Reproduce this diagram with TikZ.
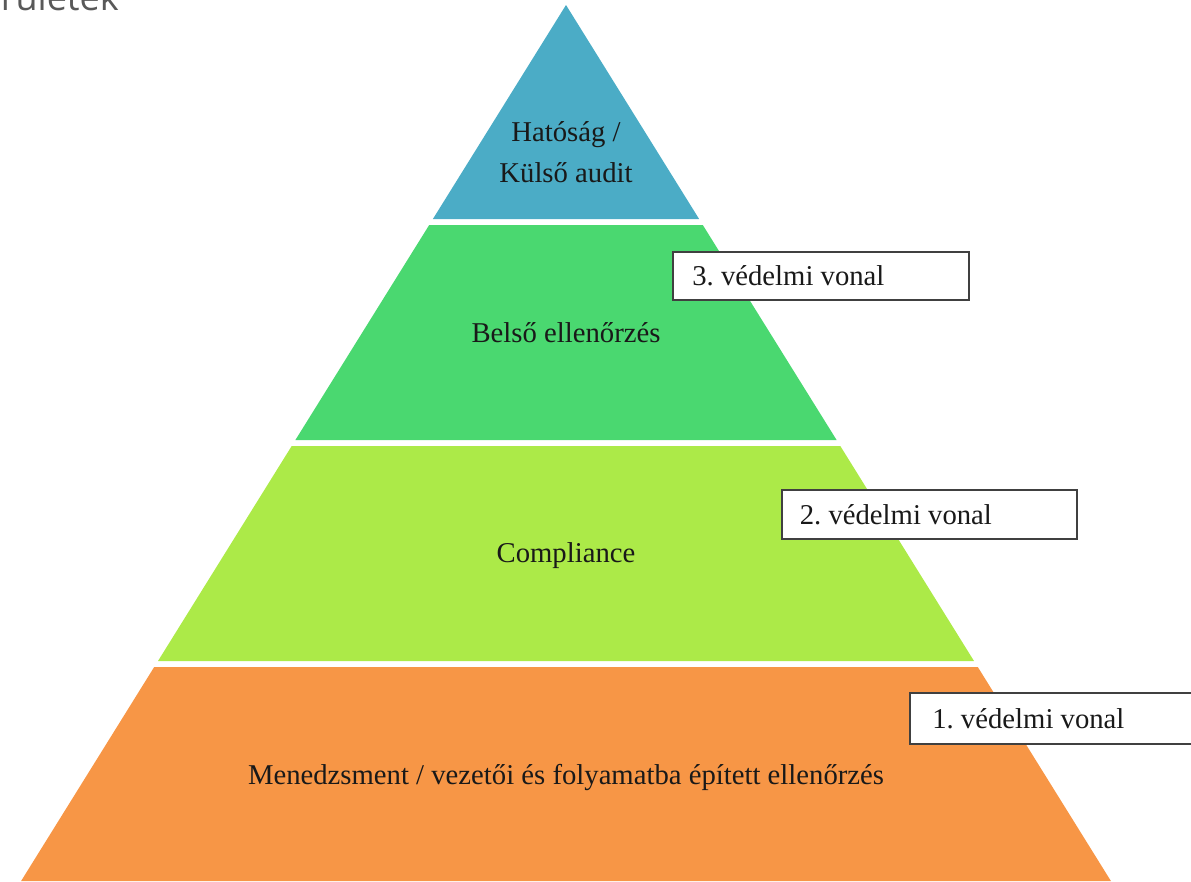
\documentclass[tikz,border=0pt]{standalone}
\usepackage{fontspec}
\setmainfont{Liberation Serif}
\newfontfamily\headfont{Open Sans}
\definecolor{cblue}{HTML}{4BACC6}
\definecolor{cgreen}{HTML}{4AD870}
\definecolor{clime}{HTML}{ACEA48}
\definecolor{corange}{HTML}{F79646}
\definecolor{cframe}{HTML}{404040}
\definecolor{chead}{HTML}{595959}
\frenchspacing
\begin{document}
\begin{tikzpicture}[x=1pt,y=-1pt,
  lbl/.style={font=\fontsize{28.7}{41}\selectfont, text=black!90, align=center, inner sep=0pt},
  linebox/.style={draw=cframe, line width=1.6pt, fill=white, anchor=north west, inner sep=0pt,
     font=\fontsize{28.7}{34}\selectfont, text=black!90}]
\useasboundingbox (0,0) rectangle (1191,881);
\clip (0,0) rectangle (1191,881);
% partial heading at the top-left edge
\node[anchor=base east, inner sep=0pt, font=\headfont\fontsize{36}{40}\selectfont, text=chead] (head) at (119,10) {területek};
% pyramid layers
\fill[cblue] (566,5) -- (699.1,219) -- (432.9,219) -- cycle;
\fill[cgreen] (429.2,225) -- (702.8,225) -- (836.6,440) -- (295.4,440) -- cycle;
\fill[clime] (291.7,446) -- (840.3,446) -- (974.0,661) -- (158.0,661) -- cycle;
\fill[corange] (154.2,667) -- (977.8,667) -- (1110.9,881) -- (21.1,881) -- cycle;
% layer labels
\node[lbl] (top) at (566,152) {Hatóság /\\Külső audit};
\node[lbl] (inner) at (566,333) {Belső ellenőrzés};
\node[lbl] (comp) at (566,556) {Compliance};
\node[lbl] (mgmt) at (566,777) {Menedzsment / vezetői és folyamatba épített ellenőrzés};
% line-of-defence boxes
\node[linebox, minimum width=296pt, minimum height=48pt] (l3) at (672,251) {\hspace{13pt}\makebox[270pt][l]{3. védelmi vonal}\hspace{13pt}};
\node[linebox, minimum width=295pt, minimum height=49pt] (l2) at (781,489) {\hspace{12pt}\makebox[271pt][l]{2. védelmi vonal}\hspace{12pt}};
\node[linebox, minimum width=300pt, minimum height=51pt] (l1) at (909,692) {\hspace{15pt}\makebox[270pt][l]{1. védelmi vonal}\hspace{15pt}};
\end{tikzpicture}
\end{document}
